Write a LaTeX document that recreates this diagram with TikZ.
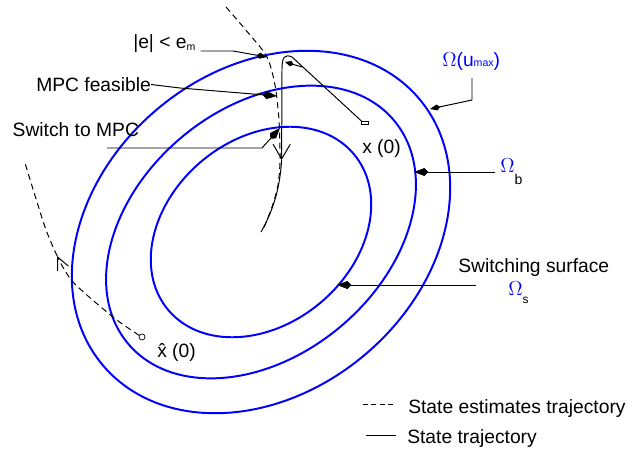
\documentclass[tikz,border=0pt]{standalone}
\usepackage{fontspec}
\setmainfont{Liberation Sans}
\usetikzlibrary{arrows.meta}

% lowered small index, as in e_m or Omega_b
\newcommand{\lowsub}[3]{\raisebox{#1}{\fontsize{#2}{#2}\selectfont #3}}

\tikzset{
  lbl/.style={font=\fontsize{13.7}{16}\selectfont, inner sep=0pt},
  region/.style={blue, line width=1.4pt},
  leader/.style={line width=0.7pt, -{Kite[length=0.36cm,width=0.2cm,inset=0.1cm]}},
  smallleader/.style={line width=0.7pt, -{Kite[length=0.26cm,width=0.15cm,inset=0.08cm]}},
  traj/.style={line width=0.7pt},
  est/.style={line width=0.7pt, dash pattern=on 4.3pt off 2.9pt},
  dirtip/.style={-{Straight Barb[length=0.37cm,width=0.43cm]}}
}

\begin{document}
\begin{tikzpicture}
    \useasboundingbox (0,0) rectangle (16.1,11.275);
    \coordinate (o) at (6.525,5.475);

    % invariant regions
    \draw[region, rotate around={40:(o)}] (o) ellipse (5.17cm and 4.02cm);
    \draw[region, rotate around={40:(o)}] (o) ellipse (4.34cm and 3.09cm);
    \draw[region, rotate around={40:(o)}] (o) ellipse (3.03cm and 2.31cm);

    % initial states
    \node[draw, line width=0.5pt, inner sep=0pt, minimum width=0.16cm, minimum height=0.08cm] (x0) at (9.125,8.2) {};
    \node[draw, circle, line width=0.5pt, inner sep=0pt, minimum size=0.15cm] (xh0) at (3.55,2.85) {};
    \node[lbl, anchor=base west] (x0txt) at (9.05,7.45) {x (0)};
    \node[lbl, anchor=base west] (xhtxt) at (3.925,2.35) {\^{x} (0)};

    % state trajectory
    \draw[traj, dirtip] (x0.north west) -- (7.3,9.85) .. controls (7.12,9.93) and (7.05,9.85) .. (7.05,9.55) -- (7.04,7.275);
    \draw[traj] (7.04,7.275) .. controls (7.0,6.6) and (6.85,6.05) .. (o);
    \draw[line width=0.7pt, -{Kite[length=0.22cm,width=0.14cm,inset=0.07cm]}] (7.55,9.6) -- (7.125,9.725);

    % estimated trajectories
    \draw[est] plot[smooth] coordinates {(5.65,11.1) (6.25,10.4) (6.675,9.85) (6.875,9.15) (6.975,8.275) (7.0,7.275) (6.95,6.65) (6.8,6.1) (6.575,5.525)};
    \draw[est, -{Straight Barb[length=0.32cm,width=0.3cm]}] plot[smooth] coordinates {(xh0.150) (2.825,3.35) (1.825,4.225) (1.43,4.875)};
    \draw[est] plot[smooth] coordinates {(1.43,4.875) (1.125,5.6) (0.625,7.2)};

    % labels with leaders
    \node[lbl, anchor=base west] (em) at (3.325,10.075) {|e| < e\lowsub{-1.5pt}{7.5}{m}};
    \draw[smallleader] ([xshift=0.12cm,yshift=-0.075cm]em.base east) -- (5.825,10.0) -- (6.675,9.85);

    \node[lbl, anchor=base west] (feas) at (0.9,8.99) {MPC feasible};
    \draw[leader] (feas.east) -- (4.5,9.075) -- (6.925,8.875);

    \node[lbl, anchor=base west] (sw) at (0.31,7.86) {Switch to MPC};
    \coordinate (swfoot) at (2.675,7.575);
    \draw[leader] (swfoot) -- (6.55,7.575) -- (7.0,8.075);

    \node[lbl, anchor=base west, blue] (omu) at (11.05,9.6) {$\Omega$(u\lowsub{0pt}{7.5}{max})};
    \coordinate (omufoot) at (11.8,9.325);
    \draw[smallleader] (omufoot) -- (11.8,8.775) -- (10.75,8.55);

    \node[lbl, anchor=base west] (omb) at (12.5,6.975) {\textcolor{blue}{$\Omega$}\lowsub{-9pt}{10}{b}};
    \draw[leader] ([xshift=-0.12cm]omb.base west) -- (10.35,6.975);

    \node[lbl, anchor=base west] (surf) at (11.45,4.475) {Switching surface};
    \node[lbl, anchor=base west] (oms) at (12.7,3.9) {\textcolor{blue}{$\Omega$}\lowsub{-6pt}{8.5}{s}};
    \coordinate (omsfoot) at (11.9,4.15);
    \draw[leader] (omsfoot) -- (8.425,4.15);

    % legend
    \node[lbl, anchor=base west] (legest) at (10.2,0.95) {State estimates trajectory};
    \node[lbl, anchor=base west] (legtraj) at (10.175,0.2) {State trajectory};
    \draw[line width=0.7pt, dash pattern=on 3.5pt off 2.5pt] (9.075,1.175) -- (9.825,1.175);
    \draw[traj] (9.15,0.4) -- (9.9,0.4);
\end{tikzpicture}
\end{document}
